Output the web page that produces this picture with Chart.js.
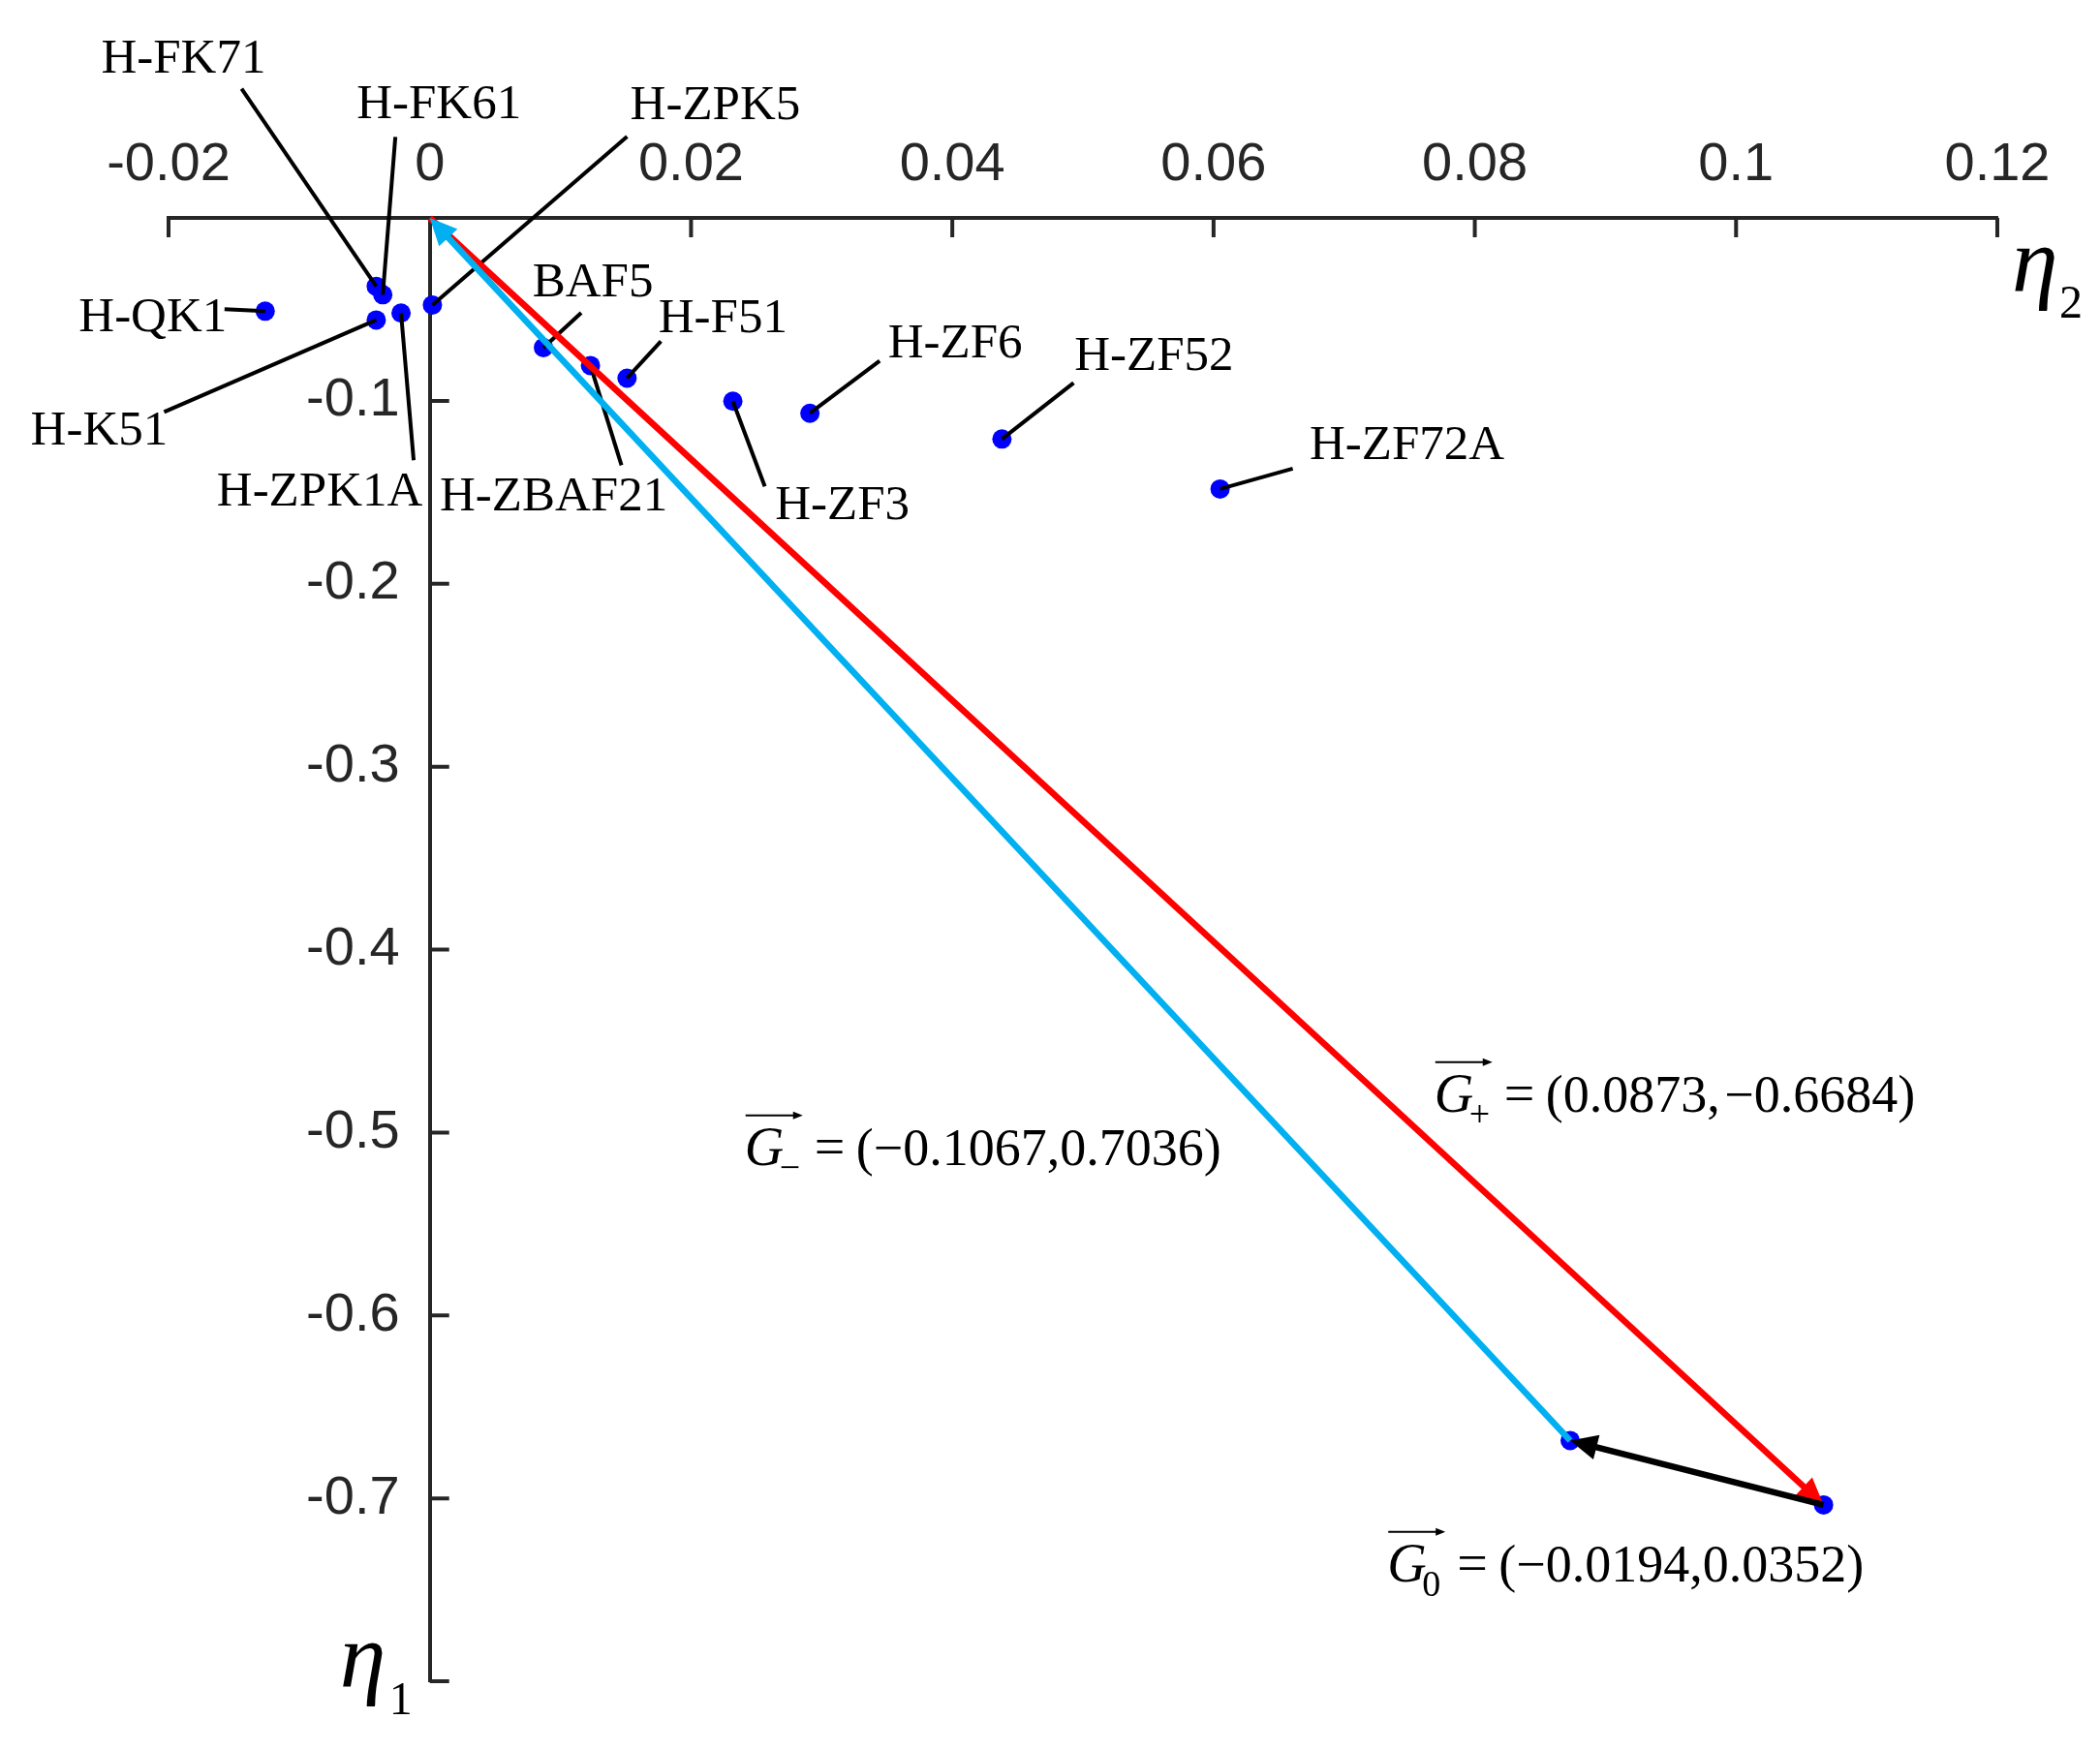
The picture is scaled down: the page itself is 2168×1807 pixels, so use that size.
<!DOCTYPE html>
<html>
<head>
<meta charset="utf-8">
<script src="https://cdn.jsdelivr.net/npm/chart.js@4.4.1/dist/chart.umd.min.js"></script>
<style>
  html, body { margin: 0; padding: 0; background: #fff; }
</style>
</head>
<body>
<canvas id="myChart" width="2168" height="1807"></canvas>
<script>
// glass points, eta2 on x and eta1 on y
const glassNames = ['H-QK1', 'H-FK71', 'H-FK61', 'H-K51', 'H-ZPK1A', 'H-ZPK5', 'BAF5',
    'H-ZBAF21', 'H-F51', 'H-ZF3', 'H-ZF6', 'H-ZF52', 'H-ZF72A'];
const eta2 = [-0.0126, -0.0041, -0.0036, -0.0041, -0.0022, 0.0002, 0.0087,
    0.0123, 0.0151, 0.0232, 0.0291, 0.0438, 0.0605];
const eta1 = [-0.0510, -0.0374, -0.0420, -0.0558, -0.0520, -0.0476, -0.0709,
    -0.0807, -0.0876, -0.1002, -0.1068, -0.1209, -0.1482];

// the two end points of the vectors
const endEta2 = [0.0873, 0.1067];
const endEta1 = [-0.6684, -0.7036];

// vectors: from -> to (data units)
const vecFromX = [0, 0.0873, 0.1067];
const vecFromY = [0, -0.6684, -0.7036];
const vecToX = [0.1067, 0, 0.0873];
const vecToY = [-0.7036, 0, -0.6684];

// vector captions
const vecSubs = ['+', '\u2212', '0'];
const vecTexts = ['(0.0873,\u200a\u22120.6684)', '(\u22120.1067,0.7036)', '(\u22120.0194,0.0352)'];
const vecTextX = [0.0769, 0.0241, 0.0733];
const vecTextY = [-0.4886, -0.5177, -0.7454];

const xTicks = [-0.02, 0, 0.02, 0.04, 0.06, 0.08, 0.1, 0.12];
const xTickLabels = ['-0.02', '0', '0.02', '0.04', '0.06', '0.08', '0.1', '0.12'];
const yTicks = [0, -0.1, -0.2, -0.3, -0.4, -0.5, -0.6, -0.7, -0.8];
const yTickLabels = ['', '-0.1', '-0.2', '-0.3', '-0.4', '-0.5', '-0.6', '-0.7', ''];

// label layout, pixel offsets from each point: text centre/baseline and leader start
const textOff = [[-116, 21], [-199, -221], [58, -182], [-286, 129], [-84, 199], [292, -192], [51, -53],
    [-38, 150], [99, -47], [113, 122], [150, -58], [157, -71], [193, -31]];
const leadOff = [[-42, -2], [-139, -204], [13, -163], [-219, 95], [13, 152], [201, -174], [39, -36],
    [32, 103], [35, -38], [33, 88], [72, -54], [74, -58], [75, -21]];

const vecColors = ['#ff0000', '#00b0f0', '#000000'];
const axisColor = '#262626';

function arrow(ctx, x1, y1, x2, y2, color) {
    const a = Math.atan2(y2 - y1, x2 - x1);
    const hl = 28, hw = 13;
    const bx = x2 - hl * Math.cos(a), by = y2 - hl * Math.sin(a);
    ctx.strokeStyle = color;
    ctx.lineWidth = 6.5;
    ctx.beginPath();
    ctx.moveTo(x1, y1);
    ctx.lineTo(bx + 2 * Math.cos(a), by + 2 * Math.sin(a));
    ctx.stroke();
    ctx.fillStyle = color;
    ctx.beginPath();
    ctx.moveTo(x2, y2);
    ctx.lineTo(bx - hw * Math.sin(a), by + hw * Math.cos(a));
    ctx.lineTo(bx + hw * Math.sin(a), by - hw * Math.cos(a));
    ctx.closePath();
    ctx.fill();
}

function vecCaption(ctx, x, y, sub, rest) {
    ctx.fillStyle = '#000';
    ctx.textAlign = 'left';
    ctx.textBaseline = 'alphabetic';
    ctx.font = 'italic 56px "Liberation Serif"';
    ctx.fillText('G', x, y);
    // small arrow over G
    ctx.strokeStyle = '#000';
    ctx.lineWidth = 2;
    ctx.beginPath();
    ctx.moveTo(x + 1, y - 51);
    ctx.lineTo(x + 52, y - 51);
    ctx.stroke();
    ctx.beginPath();
    ctx.moveTo(x + 60, y - 51);
    ctx.lineTo(x + 50, y - 55);
    ctx.lineTo(x + 50, y - 47);
    ctx.closePath();
    ctx.fill();
    ctx.font = '38px "Liberation Serif"';
    ctx.fillText(sub, x + 36, y + 15);
    ctx.font = '56px "Liberation Serif"';
    ctx.fillText('=', x + 72, y);
    ctx.font = '54px "Liberation Serif"';
    ctx.fillText(rest, x + 115, y);
}

const annotate = {
    id: 'annotate',
    beforeDatasetsDraw(chart) {
        const ctx = chart.ctx, xs = chart.scales.x, ys = chart.scales.y;
        const x0 = xs.getPixelForValue(0), y0 = ys.getPixelForValue(0);
        ctx.save();
        ctx.strokeStyle = axisColor;
        ctx.lineWidth = 4;
        ctx.beginPath();
        xTicks.forEach(v => {
            if (v === 0) return;
            const p = xs.getPixelForValue(v);
            ctx.moveTo(p, y0);
            ctx.lineTo(p, y0 + 20);
        });
        yTicks.forEach(v => {
            if (v === 0) return;
            const p = ys.getPixelForValue(v);
            ctx.moveTo(x0, p);
            ctx.lineTo(x0 + 20, p);
        });
        ctx.stroke();
        ctx.restore();
    },
    afterDatasetsDraw(chart) {
        const ctx = chart.ctx, xs = chart.scales.x, ys = chart.scales.y;
        ctx.save();
        // leader lines and names
        ctx.strokeStyle = '#000';
        ctx.lineWidth = 4;
        ctx.fillStyle = '#000';
        ctx.font = '51px "Liberation Serif"';
        ctx.textAlign = 'center';
        ctx.textBaseline = 'alphabetic';
        for (let i = 0; i < glassNames.length; i++) {
            const px = xs.getPixelForValue(eta2[i]), py = ys.getPixelForValue(eta1[i]);
            ctx.beginPath();
            ctx.moveTo(px + leadOff[i][0], py + leadOff[i][1]);
            ctx.lineTo(px, py);
            ctx.stroke();
            ctx.fillText(glassNames[i], px + textOff[i][0], py + textOff[i][1]);
        }
        // vectors
        for (let i = 0; i < vecFromX.length; i++) {
            arrow(ctx, xs.getPixelForValue(vecFromX[i]), ys.getPixelForValue(vecFromY[i]),
                xs.getPixelForValue(vecToX[i]), ys.getPixelForValue(vecToY[i]), vecColors[i]);
        }
        for (let i = 0; i < vecTexts.length; i++) {
            vecCaption(ctx, xs.getPixelForValue(vecTextX[i]), ys.getPixelForValue(vecTextY[i]), vecSubs[i], vecTexts[i]);
        }
        // axis names
        ctx.fillStyle = '#000';
        ctx.textAlign = 'left';
        ctx.font = 'italic 96px "Liberation Serif"';
        ctx.fillText('\u03b7', xs.right + 15, ys.top + 76);
        ctx.fillText('\u03b7', xs.getPixelForValue(0) - 93, ys.bottom + 6);
        ctx.font = '48px "Liberation Serif"';
        ctx.fillText('2', xs.right + 64, ys.top + 103);
        ctx.fillText('1', xs.getPixelForValue(0) - 42, ys.bottom + 34);
        ctx.restore();
    }
};

const ctx = document.getElementById('myChart').getContext('2d');
const myChart = new Chart(ctx, {
    type: 'scatter',
    data: {
        datasets: [{
            data: eta2.map((v, i) => ({ x: v, y: eta1[i] })),
            backgroundColor: '#0000ff',
            borderWidth: 0,
            pointRadius: 10
        }, {
            data: endEta2.map((v, i) => ({ x: v, y: endEta1[i] })),
            backgroundColor: '#0000ff',
            borderWidth: 0,
            pointRadius: 10
        }]
    },
    options: {
        responsive: false,
        animation: false,
        devicePixelRatio: 1,
        layout: { padding: { left: 174, right: 106, top: 0, bottom: 71 } },
        plugins: {
            legend: { display: false },
            tooltip: { enabled: false }
        },
        scales: {
            x: {
                type: 'linear',
                position: 'top',
                min: -0.02,
                max: 0.12,
                afterBuildTicks: s => { s.ticks = xTicks.map(v => ({ value: v })); },
                afterFit: s => { s.height = 225; },
                grid: { display: false, drawTicks: false },
                border: { display: true, color: axisColor, width: 4 },
                ticks: {
                    callback: (v, i) => xTickLabels[i],
                    font: { family: 'Liberation Sans', size: 56 },
                    color: axisColor,
                    padding: 21,
                    maxRotation: 0,
                    autoSkip: false
                }
            },
            y: {
                type: 'linear',
                position: { x: 0 },
                min: -0.8,
                max: 0,
                afterBuildTicks: s => { s.ticks = yTicks.map(v => ({ value: v })); },
                afterFit: s => { s.width = 0; },
                grid: { display: false, drawTicks: false },
                border: { display: true, color: axisColor, width: 4 },
                ticks: {
                    // an axis placed at x = 0 ignores padding, so keep the gap with two spaces
                    callback: (v, i) => yTickLabels[i] ? yTickLabels[i] + '  ' : '',
                    font: { family: 'Liberation Sans', size: 56 },
                    color: axisColor,
                    autoSkip: false
                }
            }
        }
    },
    plugins: [annotate]
});
</script>
</body>
</html>
